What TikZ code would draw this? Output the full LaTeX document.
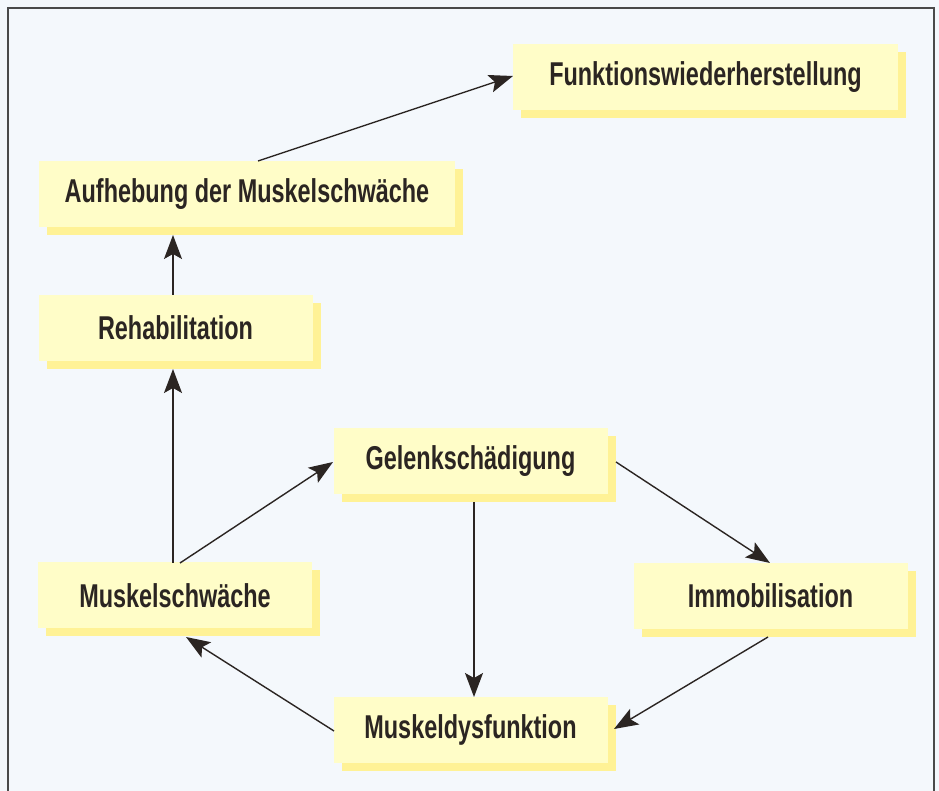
\documentclass[tikz,border=0pt]{standalone}
\usepackage{fontspec}
\setmainfont{Liberation Sans}[FakeStretch=0.71]
\usetikzlibrary{shadows,arrows.meta}
\definecolor{bgblue}{HTML}{F4F8FC}
\definecolor{face}{HTML}{FFFDC8}
\definecolor{shadowy}{HTML}{FFF296}
\definecolor{ink}{HTML}{2B2522}
\definecolor{framec}{HTML}{4A4A4A}
\tikzset{
  boxnode/.style={fill=face, minimum width=137pt, minimum height=33pt,
    inner sep=0pt, text=ink, font=\fontsize{16.5}{18}\selectfont\bfseries,
    drop shadow={shadow xshift=4pt, shadow yshift=-4pt, fill=shadowy, opacity=1}},
  conn/.style={draw=ink, line width=0.7pt,
    -{Stealth[length=12pt, width=9pt, inset=2.5pt]}},
  plain/.style={draw=ink, line width=0.7pt}
}
\begin{document}
\begin{tikzpicture}[x=0.5pt, y=-0.5pt]
\useasboundingbox (0,0) rectangle (939,791);
\fill[bgblue] (0,0) rectangle (939,791);
\draw[framec, line width=0.9pt] (8,791) -- (8,8) -- (934,8) -- (934,791);

\node[boxnode, minimum width=192.5pt] (funk) at (705.5,77) {Funktionswiederherstellung};
\node[boxnode, minimum width=208pt] (aufh) at (247,194) {Aufhebung der Muskelschwäche};
\node[boxnode] (reha) at (175.5,328) {Rehabilitation};
\node[boxnode] (gel) at (470.5,461) {Gelenkschädigung};
\node[boxnode] (msw) at (175,595.5) {Muskelschwäche};
\node[boxnode] (imm) at (770.5,596) {Immobilisation};
\node[boxnode] (mdf) at (470.5,730) {Muskeldysfunktion};

\coordinate (aufhT) at (258,161);
\coordinate (funkL) at (513,76);
\draw[conn] (aufhT) -- (funkL);

\coordinate (rehaT) at (173,295);
\coordinate (aufhB) at (173,235);
\draw[conn] (rehaT) -- (aufhB);

\coordinate (mswT) at (173,563);
\coordinate (rehaB) at (173,369);
\draw[conn] (mswT) -- (rehaB);

\coordinate (mswT2) at (180,563);
\coordinate (gelL) at (333,462);
\draw[conn] (mswT2) -- (gelL);

\coordinate (gelR) at (616,462);
\coordinate (immT) at (770,563);
\draw[conn] (gelR) -- (immT);

\coordinate (gelB) at (474,502);
\coordinate (mdfT) at (474,697);
\draw[conn] (gelB) -- (mdfT);

\coordinate (immB) at (768,637);
\coordinate (mdfR) at (614,729);
\draw[conn] (immB) -- (mdfR);

\coordinate (mdfL) at (334,731);
\coordinate (mswB) at (186,637);
\draw[conn] (mdfL) -- (mswB);
\end{tikzpicture}
\end{document}
